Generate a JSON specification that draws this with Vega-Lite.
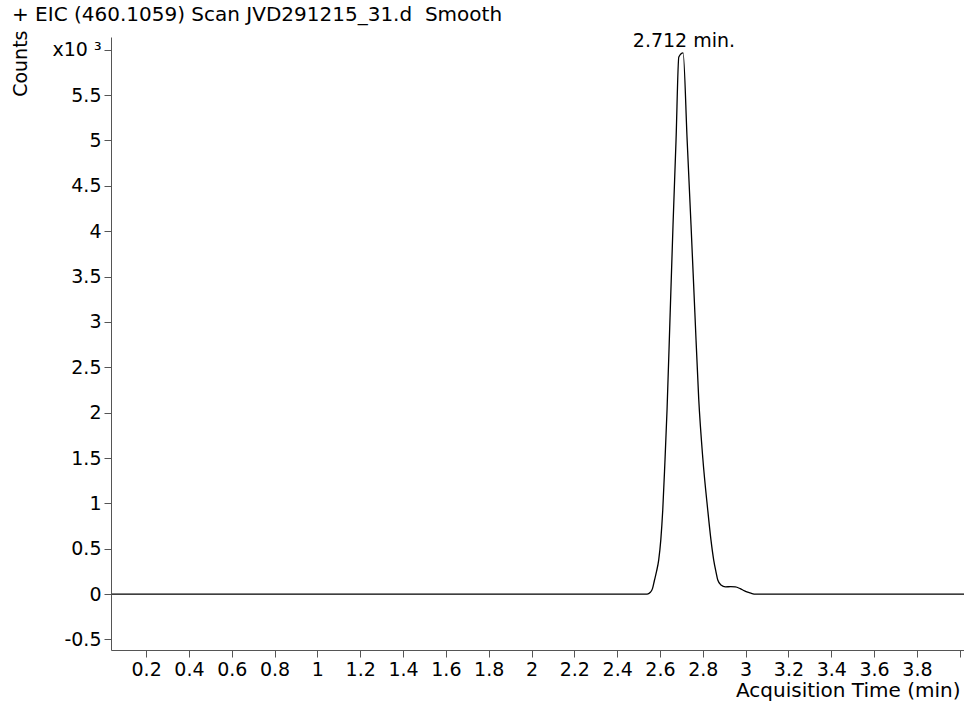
{
  "$schema": "https://vega.github.io/schema/vega-lite/v6.json",
  "width": 853,
  "height": 613,
  "autosize": {"type": "none"},
  "padding": {"left": 111, "top": 37, "right": 0, "bottom": 56},
  "background": "white",
  "config": {"view": {"stroke": null}, "font": "DejaVu Sans"},
  "title": {
    "text": "+ EIC (460.1059) Scan JVD291215_31.d\u00a0 Smooth",
    "anchor": "start",
    "frame": "group",
    "dx": -99,
    "offset": 5,
    "fontSize": 20,
    "font": "DejaVu Sans",
    "fontWeight": "normal",
    "color": "black"
  },
  "layer": [
    {
      "data": {
        "values": [
          {"t": 0.04, "c": 0},
          {"t": 0.5, "c": 0},
          {"t": 1.0, "c": 0},
          {"t": 1.5, "c": 0},
          {"t": 2.0, "c": 0},
          {"t": 2.5, "c": 0},
          {"t": 2.54, "c": 0},
          {"t": 2.555, "c": 0.02},
          {"t": 2.565, "c": 0.06},
          {"t": 2.574, "c": 0.15},
          {"t": 2.584, "c": 0.25},
          {"t": 2.594, "c": 0.375},
          {"t": 2.604, "c": 0.6},
          {"t": 2.613, "c": 0.926},
          {"t": 2.623, "c": 1.45},
          {"t": 2.633, "c": 2.03},
          {"t": 2.647, "c": 3.05},
          {"t": 2.661, "c": 4.07},
          {"t": 2.675, "c": 5.0},
          {"t": 2.688, "c": 5.92},
          {"t": 2.708, "c": 5.965},
          {"t": 2.727, "c": 5.0},
          {"t": 2.745, "c": 4.07},
          {"t": 2.763, "c": 3.1},
          {"t": 2.781, "c": 2.15},
          {"t": 2.8, "c": 1.5},
          {"t": 2.823, "c": 0.93},
          {"t": 2.838, "c": 0.6},
          {"t": 2.851, "c": 0.375},
          {"t": 2.862, "c": 0.24},
          {"t": 2.87, "c": 0.155},
          {"t": 2.885, "c": 0.1},
          {"t": 2.906, "c": 0.08},
          {"t": 2.93, "c": 0.082},
          {"t": 2.952, "c": 0.08},
          {"t": 2.975, "c": 0.06},
          {"t": 2.995, "c": 0.035},
          {"t": 3.014, "c": 0.018},
          {"t": 3.03, "c": 0.006},
          {"t": 3.046, "c": 0},
          {"t": 3.5, "c": 0},
          {"t": 4.02, "c": 0}
        ]
      },
      "mark": {"type": "line", "color": "black", "strokeWidth": 1.3, "clip": true, "interpolate": "monotone"},
      "encoding": {
        "x": {
          "field": "t",
          "type": "quantitative",
          "scale": {"domain": [0.036, 4.02], "nice": false, "zero": false},
          "axis": {
            "values": [0.2, 0.4, 0.6, 0.8, 1, 1.2, 1.4, 1.6, 1.8, 2, 2.2, 2.4, 2.6, 2.8, 3, 3.2, 3.4, 3.6, 3.8, 4],
            "format": ".1~f",
            "labelExpr": "datum.value > 3.95 ? '' : datum.label",
            "grid": false,
            "domainColor": "#555",
            "tickColor": "#555",
            "tickSize": 7,
            "labelPadding": 3,
            "labelFontSize": 19,
            "labelFont": "DejaVu Sans",
            "labelColor": "black",
            "labelFlush": false,
            "labelOverlap": false,
            "title": "Acquisition Time (min)",
            "titleFont": "DejaVu Sans",
            "titleFontSize": 20,
            "titleFontWeight": "normal",
            "titleColor": "black",
            "titleAnchor": "end",
            "titleAlign": "right",
            "titleBaseline": "alphabetic",
            "titleX": 849,
            "titleY": 46
          }
        },
        "y": {
          "field": "c",
          "type": "quantitative",
          "scale": {"domain": [-0.616, 6.14], "nice": false, "zero": false},
          "axis": {
            "values": [-0.5, 0, 0.5, 1, 1.5, 2, 2.5, 3, 3.5, 4, 4.5, 5, 5.5, 6],
            "format": "~g",
            "labelExpr": "datum.value == 6 ? 'x10 ³' : replace(datum.label, '−', '-')",
            "grid": false,
            "domainColor": "#555",
            "tickColor": "#555",
            "tickSize": 7,
            "labelPadding": 3,
            "labelFontSize": 19,
            "labelFont": "DejaVu Sans",
            "labelColor": "black",
            "labelFlush": false,
            "labelOverlap": false,
            "title": "Counts",
            "titleFont": "DejaVu Sans",
            "titleFontSize": 19,
            "titleFontWeight": "normal",
            "titleColor": "black",
            "titleAnchor": "end",
            "titleAngle": 270,
            "titleAlign": "right",
            "titleBaseline": "middle",
            "titleX": -91,
            "titleY": -7
          }
        }
      }
    },
    {
      "data": {"values": [{"t": 2.712, "c": 5.965, "label": "2.712 min."}]},
      "mark": {"type": "text", "dy": -6, "baseline": "alphabetic", "fontSize": 19, "font": "DejaVu Sans", "color": "black"},
      "encoding": {
        "x": {"field": "t", "type": "quantitative"},
        "y": {"field": "c", "type": "quantitative"},
        "text": {"field": "label"}
      }
    }
  ]
}
